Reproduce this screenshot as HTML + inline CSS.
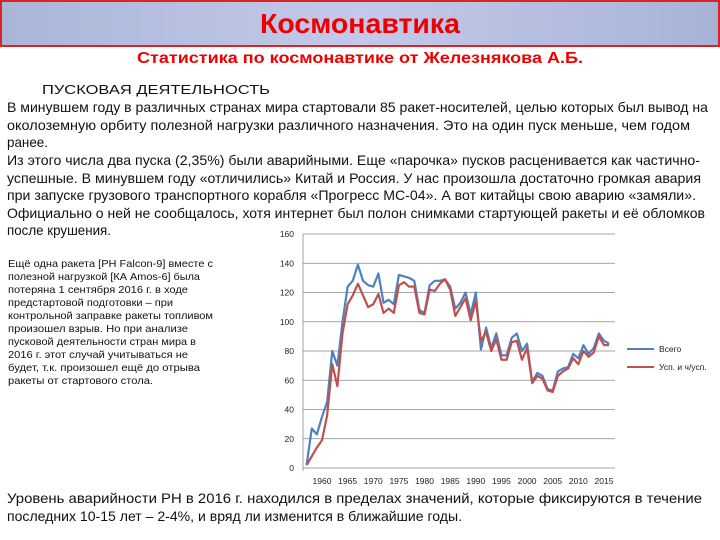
<!DOCTYPE html>
<html><head><meta charset="utf-8"><style>
body{margin:0;background:#fff}
svg{display:block;font-family:"Liberation Sans","Noto Sans CJK SC",sans-serif}
</style></head><body>
<svg id="page" width="720" height="540" viewBox="0 0 720 540">
<defs><linearGradient id="hg" x1="0" x2="1" y1="0" y2="0"><stop offset="0" stop-color="#a9b6d8"/><stop offset="0.5" stop-color="#c4c9ea"/><stop offset="1" stop-color="#a7b3d6"/></linearGradient></defs>
<rect x="1" y="1" width="718" height="45" fill="url(#hg)" stroke="#d22" stroke-width="2"/>
<text x="360" y="33" text-anchor="middle" font-size="28" font-weight="bold" fill="#e00" textLength="200" lengthAdjust="spacingAndGlyphs">Космонавтика</text>
<text x="360" y="63" text-anchor="middle" font-size="16" font-weight="bold" fill="#e00" textLength="446" lengthAdjust="spacingAndGlyphs">Статистика по космонавтике от Железнякова А.Б.</text>
<g font-size="14" fill="#111">
<text x="42" y="94" font-size="12.5" textLength="228" lengthAdjust="spacingAndGlyphs">ПУСКОВАЯ ДЕЯТЕЛЬНОСТЬ</text>
<text x="7" y="112" textLength="701" lengthAdjust="spacingAndGlyphs">В минувшем году в различных странах мира стартовали 85 ракет-носителей, целью которых был вывод на</text>
<text x="7" y="130" textLength="683" lengthAdjust="spacingAndGlyphs">околоземную орбиту полезной нагрузки различного назначения. Это на один пуск меньше, чем годом</text>
<text x="7" y="147" textLength="41" lengthAdjust="spacingAndGlyphs">ранее.</text>
<text x="7" y="165" textLength="693" lengthAdjust="spacingAndGlyphs">Из этого числа два пуска (2,35%) были аварийными. Еще «парочка» пусков расценивается как частично-</text>
<text x="7" y="183" textLength="694" lengthAdjust="spacingAndGlyphs">успешные. В минувшем году «отличились» Китай и Россия. У нас произошла достаточно громкая авария</text>
<text x="7" y="200" textLength="689" lengthAdjust="spacingAndGlyphs">при запуске грузового транспортного корабля «Прогресс МС-04». А вот китайцы свою аварию «замяли».</text>
<text x="7" y="218" textLength="698" lengthAdjust="spacingAndGlyphs">Официально о ней не сообщалось, хотя интернет был полон снимками стартующей ракеты и её обломков</text>
<text x="7" y="235" textLength="104" lengthAdjust="spacingAndGlyphs">после крушения.</text>
</g>
<g font-size="10.5" fill="#111">
<text x="8" y="267" textLength="205" lengthAdjust="spacingAndGlyphs">Ещё одна ракета [РН Falcon-9] вместе с</text>
<text x="8" y="280" textLength="192" lengthAdjust="spacingAndGlyphs">полезной нагрузкой [КА Amos-6] была</text>
<text x="8" y="293" textLength="180" lengthAdjust="spacingAndGlyphs">потеряна 1 сентября 2016 г. в ходе</text>
<text x="8" y="306" textLength="165" lengthAdjust="spacingAndGlyphs">предстартовой подготовки – при</text>
<text x="8" y="319" textLength="205" lengthAdjust="spacingAndGlyphs">контрольной заправке ракеты топливом</text>
<text x="8" y="332" textLength="180" lengthAdjust="spacingAndGlyphs">произошел взрыв. Но при анализе</text>
<text x="8" y="345" textLength="188" lengthAdjust="spacingAndGlyphs">пусковой деятельности стран мира в</text>
<text x="8" y="358" textLength="180" lengthAdjust="spacingAndGlyphs">2016 г. этот случай учитываться не</text>
<text x="8" y="371" textLength="192" lengthAdjust="spacingAndGlyphs">будет, т.к. произошел ещё до отрыва</text>
<text x="8" y="384" textLength="145" lengthAdjust="spacingAndGlyphs">ракеты от стартового стола.</text>
</g>
<g font-size="14" fill="#111">
<text x="7" y="503" textLength="695" lengthAdjust="spacingAndGlyphs">Уровень аварийности РН в 2016 г. находился в пределах значений, которые фиксируются в течение</text>
<text x="7" y="521" textLength="455" lengthAdjust="spacingAndGlyphs">последних 10-15 лет – 2-4%, и вряд ли изменится в ближайшие годы.</text>
</g>
<g id="chart"></g>
</svg>
<script>
const years=[];for(let y=1957;y<=2016;y++)years.push(y);
const totalLaunches=[2,27,23,35,45,80,70,100,124,128,139,128,125,124,133,113,115,112,132,131,130,128,108,106,125,128,128,129,124,109,113,120,105,120,81,96,82,92,77,77,89,92,80,85,59,65,63,54,53,66,68,69,78,75,84,78,82,92,87,85];
const successLaunches=[2,8,14,19,36,71,56,92,112,118,126,118,110,112,119,106,109,106,125,127,124,124,106,105,122,121,126,129,122,104,110,116,101,114,87,93,80,88,74,74,86,87,74,82,58,63,61,53,52,63,66,68,75,71,80,76,79,90,84,84];
const yTicks=[0,20,40,60,80,100,120,140,160];
const xTicks=[1960,1965,1970,1975,1980,1985,1990,1995,2000,2005,2010,2015];
const seriesNames=["Всего","Усп. и ч/усп."];
const NS="http://www.w3.org/2000/svg";
const g=document.getElementById('chart');
const X=y=>322+(y-1960)*5.127, Y=v=>468-v*1.4625;
function mk(t,a){const e=document.createElementNS(NS,t);for(const k in a)e.setAttribute(k,a[k]);g.appendChild(e);return e;}
for(const t of yTicks){
 const l=mk('line',{x1:303,x2:615,y1:Y(t),y2:Y(t),stroke:'#888','stroke-width':0.8});
 
 
 const tx=mk('text',{x:294,y:Y(t)+3,'font-size':8.5,'text-anchor':'end',fill:'#222'});tx.textContent=t;
 
 
}
const ax=mk('line',{x1:303,x2:303,y1:Y(160),y2:471,stroke:'#888','stroke-width':0.8});


for(const t of xTicks){
 const tx=mk('text',{x:X(t),y:484,'font-size':8.5,'text-anchor':'middle',fill:'#222'});tx.textContent=t;
 
 
}
function line(vals,col,name){
 const p=mk('polyline',{points:vals.map((v,i)=>X(years[i])+','+Y(v)).join(' '),fill:'none',stroke:col,'stroke-width':2.2,'stroke-linejoin':'round'});
 
 
}
line(totalLaunches,'#4f81bd','series-total');
line(successLaunches,'#c0504d','series-success');
[['#4f81bd',349],['#c0504d',367]].forEach((c,i)=>{
 const l=mk('line',{x1:627,x2:654,y1:c[1],y2:c[1],stroke:c[0],'stroke-width':2});
 
 
 const t=mk('text',{x:659,y:c[1]+3,'font-size':8.5,fill:'#222'});t.textContent=seriesNames[i];
 
 
});
</script>
</body></html>
